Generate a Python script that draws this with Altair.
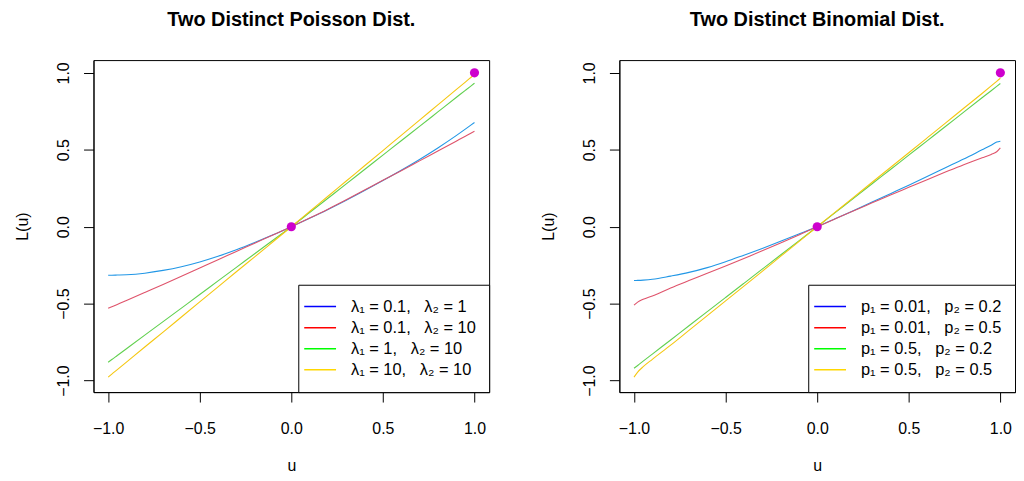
import altair as alt
import pandas as pd

# ---- data ----
u_grid = [-1.0, -0.98, -0.95, -0.9, -0.8, -0.7, -0.6, -0.5, -0.4, -0.3, -0.2, -0.1, 0.0,
          0.1, 0.2, 0.3, 0.4, 0.5, 0.6, 0.7, 0.8, 0.9, 0.95, 0.98, 1.0]

SEP = ",\u00a0\u00a0 "
pois_labels = ["λ₁ = 0.1" + SEP + "λ₂ = 1", "λ₁ = 0.1" + SEP + "λ₂ = 10",
               "λ₁ = 1" + SEP + "λ₂ = 10", "λ₁ = 10" + SEP + "λ₂ = 10"]
pois_blue = [-0.315, -0.315, -0.314, -0.312, -0.302, -0.284, -0.260, -0.229, -0.192, -0.150, -0.103, -0.053, 0.0,
             0.055, 0.112, 0.172, 0.235, 0.300, 0.367, 0.437, 0.512, 0.592, 0.634, 0.660, 0.677]
pois_red = [-0.530, -0.520, -0.505, -0.479, -0.427, -0.375, -0.322, -0.268, -0.214, -0.161, -0.107, -0.054, 0.0,
            0.056, 0.114, 0.175, 0.238, 0.302, 0.364, 0.428, 0.492, 0.556, 0.588, 0.607, 0.620]
pois_green = [-0.881, -0.863, -0.837, -0.793, -0.705, -0.617, -0.529, -0.441, -0.352, -0.264, -0.176, -0.088, 0.0,
              0.092, 0.185, 0.278, 0.372, 0.465, 0.559, 0.652, 0.746, 0.840, 0.886, 0.914, 0.933]
pois_yellow = [-0.978, -0.958, -0.929, -0.880, -0.782, -0.685, -0.587, -0.489, -0.391, -0.293, -0.196, -0.098, 0.0,
               0.099, 0.198, 0.297, 0.396, 0.495, 0.594, 0.693, 0.792, 0.891, 0.940, 0.970, 0.990]

binom_labels = ["p₁ = 0.01" + SEP + "p₂ = 0.2", "p₁ = 0.01" + SEP + "p₂ = 0.5",
                "p₁ = 0.5" + SEP + "p₂ = 0.2", "p₁ = 0.5" + SEP + "p₂ = 0.5"]
binom_blue = [-0.350, -0.349, -0.347, -0.342, -0.321, -0.297, -0.266, -0.228, -0.185, -0.141, -0.095, -0.048, 0.0,
              0.053, 0.106, 0.160, 0.215, 0.270, 0.326, 0.383, 0.440, 0.500, 0.530, 0.550, 0.556]
binom_red = [-0.510, -0.490, -0.472, -0.450, -0.398, -0.350, -0.303, -0.255, -0.206, -0.157, -0.106, -0.054, 0.0,
             0.052, 0.104, 0.155, 0.206, 0.256, 0.306, 0.355, 0.403, 0.448, 0.470, 0.487, 0.512]
binom_green = [-0.920, -0.902, -0.874, -0.828, -0.736, -0.644, -0.552, -0.460, -0.368, -0.276, -0.184, -0.092, 0.0,
               0.093, 0.186, 0.279, 0.372, 0.465, 0.558, 0.651, 0.745, 0.838, 0.884, 0.912, 0.931]
binom_yellow = [-0.978, -0.945, -0.910, -0.862, -0.770, -0.674, -0.578, -0.482, -0.386, -0.290, -0.193, -0.097, 0.0,
                0.096, 0.192, 0.289, 0.385, 0.481, 0.577, 0.673, 0.770, 0.866, 0.915, 0.945, 0.965]

pts_u = [0.0, 1.0]
pts_L = [0.0, 1.0]

axis_ticks = [-1.0, -0.5, 0.0, 0.5, 1.0]

curve_colors = ["#2297E6", "#DF536B", "#61D04F", "#F5C710"]
legend_colors = ["#0000FF", "#FF0000", "#00FF00", "#FFD700"]

FONT = "Liberation Sans"
W, H = 398, 334


def make_df(labels, series):
    rows = []
    for lab, vals in zip(labels, series):
        for k, (uu, ll) in enumerate(zip(u_grid, vals)):
            rows.append({"label": lab, "entry": lab, "u": uu, "L": ll, "k": k})
    return pd.DataFrame(rows)


def panel(title, labels, series):
    df = make_df(labels, series)
    xs = alt.Scale(domain=[-1.08, 1.08], nice=False, zero=False)
    ys = alt.Scale(domain=[-1.075, 1.083], nice=False, zero=False)
    xaxis = alt.Axis(values=axis_ticks, format=".1f", grid=False, labelFontSize=16, labelFont=FONT,
                     labelColor="black", tickColor="black", tickSize=10, domainColor="black",
                     labelPadding=19, labelFlush=False, labelOverlap=False,
                     title="u", titleFont=FONT, titleFontSize=16, titleFontWeight="normal",
                     titleColor="black", titleY=79, titleBaseline="alphabetic")
    yaxis = alt.Axis(values=axis_ticks, format=".1f", grid=False, labelFontSize=16, labelFont=FONT,
                     labelColor="black", tickColor="black", tickSize=10, domainColor="black",
                     labelAngle=270, labelAlign="center", labelBaseline="bottom",
                     labelPadding=12, labelFlush=False, labelOverlap=False,
                     title="L(u)", titleFont=FONT, titleFontSize=16, titleFontWeight="normal",
                     titleColor="black", titleX=-71.5, titleY=H / 2, titleAngle=270,
                     titleAlign="center", titleBaseline="middle")
    x = alt.X("u:Q", scale=xs, axis=xaxis)
    y = alt.Y("L:Q", scale=ys, axis=yaxis)
    leg = alt.Chart(df).mark_line(strokeOpacity=0, strokeWidth=1).encode(
        x=x, y=y, order="k:Q",
        stroke=alt.Stroke("entry:N", scale=alt.Scale(domain=labels, range=legend_colors),
                          legend=alt.Legend(title=None, orient="bottom-right", offset=0,
                                            strokeColor="black", fillColor="white", padding=13,
                                            symbolType="M-2,0H2", symbolSize=256,
                                            symbolStrokeWidth=1.5, symbolOpacity=1,
                                            labelFontSize=16.5, labelFont=FONT,
                                            labelColor="black", labelOffset=22, rowPadding=3.2,
                                            labelLimit=0, cornerRadius=0)),
    )
    lines = alt.Chart(df).mark_line(strokeWidth=1.1, interpolate="monotone").encode(
        x=x, y=y, order="k:Q",
        color=alt.Color("label:N", scale=alt.Scale(domain=labels, range=curve_colors), legend=None),
    )
    pts = alt.Chart(pd.DataFrame({"u": pts_u, "L": pts_L})).mark_circle(
        size=85, color="#CD00CD", opacity=1).encode(x=x, y=y)
    return alt.layer(leg, lines, pts).properties(
        width=W, height=H,
        title=alt.Title(title, fontSize=20, font=FONT, fontWeight="bold", color="black",
                        offset=14, baseline="alphabetic", anchor="middle", frame="group"),
    )


left = panel("Two Distinct Poisson Dist.", pois_labels,
             [pois_blue, pois_red, pois_green, pois_yellow])
right = panel("Two Distinct Binomial Dist.", binom_labels,
              [binom_blue, binom_red, binom_green, binom_yellow])

chart = alt.hconcat(left, right, spacing=131, bounds="flush").resolve_scale(
    color="independent", stroke="independent").resolve_legend(
    color="independent", stroke="independent").properties(
    padding={"left": 6, "top": 0, "right": 0, "bottom": 0}
).configure(background="white").configure_view(stroke="black", strokeWidth=1)

chart.save("out.html", embed_options={"renderer": "svg", "actions": False})
